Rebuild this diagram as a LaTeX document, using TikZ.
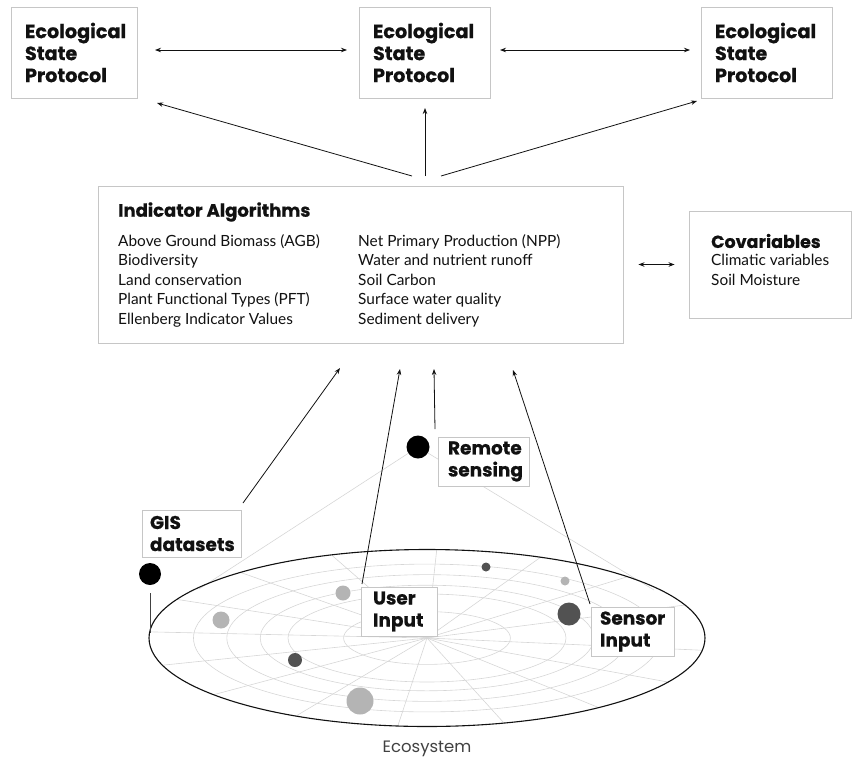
\documentclass[tikz,border=0pt]{standalone}
\usepackage{fontspec}
\setmainfont{Lato}
\newfontfamily\headfont{Poppins}[BoldFeatures={FakeBold=0.6}]
\usetikzlibrary{arrows.meta,calc,shapes.geometric}

\definecolor{boxgray}{HTML}{C6C6C6}
\definecolor{gridgray}{HTML}{D6D6D6}
\definecolor{dotlight}{HTML}{B4B4B4}
\definecolor{dotdark}{HTML}{525252}
\definecolor{inkblack}{HTML}{111111}

\begin{document}
\begin{tikzpicture}[x=1pt,y=-1pt,
  box/.style={draw=boxgray, line width=0.9pt, fill=white, inner sep=0pt},
  head/.style={font=\headfont\bfseries\fontsize{18.5}{22}\selectfont, align=left, text=inkblack},
  body/.style={font=\fontsize{15.4}{19.6}\selectfont, align=left, text=inkblack, inner sep=0pt},
  arr/.style={draw=inkblack, line width=0.8pt, -{Stealth[length=6pt,width=4.5pt]}},
  dblarr/.style={draw=inkblack, line width=0.8pt, {Stealth[length=6pt,width=4.5pt]}-{Stealth[length=6pt,width=4.5pt]}},
  grid/.style={draw=gridgray, line width=0.6pt},
  dot/.style={circle, inner sep=0pt, draw=none}
]
\useasboundingbox (0,0) rectangle (852,761);

% ---------- ecosystem disc ----------
\coordinate (C) at (427,638);
\foreach \f in {0.30,0.50,0.60,0.72,0.84}
  \draw[grid] (C) ellipse [x radius={278*\f}, y radius={88*\f}];
\foreach \a in {8,30,52,74,96,118,140,162,184,206,228,250,272,294,316,338}
  \draw[grid] (C) -- ($(C)+(\a:278 and 88)$);

% viewing cone from the remote sensing platform
\coordinate (rsc) at (418,447);
\coordinate (coneL) at (199,589);
\coordinate (coneR) at (654,590);
\draw[grid] (rsc) -- (coneL);
\draw[grid] (rsc) -- (coneR);
\node[dot, fill=black, minimum size=23pt] (rsdot) at (rsc) {};

\node[draw=inkblack, line width=1.1pt, ellipse, minimum width=556pt, minimum height=177pt, inner sep=0pt] (eco) at (C) {};

% sample points on the disc
\node[dot, fill=dotlight, minimum size=15pt] (p1) at (343,593) {};
\node[dot, fill=dotlight, minimum size=17pt] (p2) at (221,620) {};
\node[dot, fill=dotdark,  minimum size=14pt] (p3) at (295,660) {};
\node[dot, fill=dotlight, minimum size=27pt] (p4) at (360,701) {};
\node[dot, fill=dotdark,  minimum size=9pt]  (p5) at (486,567) {};
\node[dot, fill=dotlight, minimum size=9pt]  (p6) at (565,581) {};
\node[dot, fill=dotdark,  minimum size=23pt] (p7) at (569,614) {};

% GIS marker
\node[dot, fill=black, minimum size=22pt] (gisdot) at (150,574) {};
\coordinate (gisfoot) at (150,633);
\coordinate (gistop) at (150,593);
\draw[draw=inkblack!80, line width=1pt] (gistop) -- (gisfoot);

\node[font=\headfont\fontsize{16.5}{18}\selectfont, text=inkblack!80] (ecolabel) at (427,749) {Ecosystem};

% ---------- data sources ----------
\node[box, head, minimum width=99pt, minimum height=47pt, text width=83pt] (gis) at (191.5,533.5) {GIS\\datasets};
\node[box, head, minimum width=76pt, minimum height=49pt, text width=52pt] (user) at (399,611.5) {User\\Input};
\node[box, head, minimum width=83pt, minimum height=49pt, text width=65pt] (sensor) at (632.5,631.5) {Sensor\\Input};
\node[box, head, minimum width=91pt, minimum height=49pt, text width=71pt] (remote) at (483.5,461.5) {Remote\\sensing};

% ---------- indicator algorithms ----------
\node[box, minimum width=525pt, minimum height=157pt] (ind) at (360.5,264.5) {};
\node[anchor=west, inner sep=0pt, font=\headfont\bfseries\fontsize{18}{22}\selectfont, text=inkblack] (indtitle) at (118,212) {Indicator Algorithms};
\node[body, anchor=north west] (indleft) at (118,234) {Above Ground Biomass (AGB)\\Biodiversity\\Land conservation\\Plant Functional Types (PFT)\\Ellenberg Indicator Values};
\node[body, anchor=north west] (indright) at (358,234) {Net Primary Production (NPP)\\Water and nutrient runoff\\Soil Carbon\\Surface water quality\\Sediment delivery};

% ---------- covariables ----------
\node[box, minimum width=162pt, minimum height=107pt] (cov) at (770,264.5) {};
\node[anchor=west, inner sep=0pt, font=\headfont\bfseries\fontsize{17.5}{22}\selectfont, text=inkblack] (covtitle) at (711,241) {Covariables};
\node[body, anchor=north west] (covbody) at (711,254) {Climatic variables\\Soil Moisture};

% ---------- ecological state protocols ----------
\node[box, head, font=\headfont\bfseries\fontsize{19.2}{22}\selectfont, minimum width=126pt, minimum height=91pt, text width=98pt] (esp1) at (74,52.5) {Ecological\\State\\Protocol};
\node[box, head, font=\headfont\bfseries\fontsize{19.2}{22}\selectfont, minimum width=131pt, minimum height=91pt, text width=103pt] (esp2) at (424.5,52.5) {Ecological\\State\\Protocol};
\node[box, head, font=\headfont\bfseries\fontsize{19.2}{22}\selectfont, minimum width=131pt, minimum height=91pt, text width=103pt] (esp3) at (766.5,52.5) {Ecological\\State\\Protocol};

% ---------- connectors ----------
\coordinate (e12a) at (155,50);  \coordinate (e12b) at (347,50);
\coordinate (e23a) at (500,50);  \coordinate (e23b) at (690,50);
\draw[dblarr] (e12a) -- (e12b);
\draw[dblarr] (e23a) -- (e23b);

\coordinate (indL) at (412,176); \coordinate (indM) at (425,176); \coordinate (indR) at (441,176);
\coordinate (t1) at (157,103); \coordinate (t2) at (425,108); \coordinate (t3) at (697,101);
\draw[arr] (indL) -- (t1);
\draw[arr] (indM) -- (t2);
\draw[arr] (indR) -- (t3);

\coordinate (ci) at ($(ind.east)+(15,0)$);
\coordinate (cc) at ($(cov.west)+(-14,0)$);
\draw[dblarr] (ci) -- (cc);

\coordinate (gisT) at (243,503);   \coordinate (gisH) at (340,368);
\coordinate (userT) at (362,584);  \coordinate (userH) at (400,369);
\coordinate (remT) at (435,429);   \coordinate (remH) at (434,369);
\coordinate (senT) at (590,604);   \coordinate (senH) at (513,370);
\draw[arr] (gisT) -- (gisH);
\draw[arr] (userT) -- (userH);
\draw[arr] (remT) -- (remH);
\draw[arr] (senT) -- (senH);
\end{tikzpicture}
\end{document}
